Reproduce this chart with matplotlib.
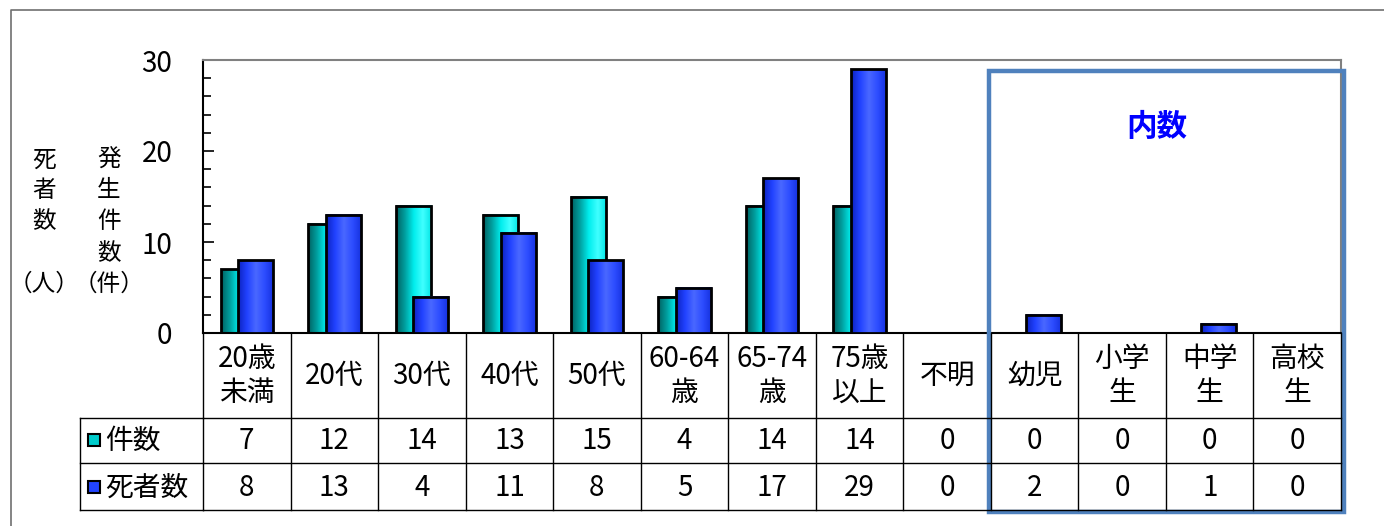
import numpy as np
import matplotlib
matplotlib.use("Agg")
import matplotlib.pyplot as plt
import matplotlib.transforms as mtransforms
from matplotlib.colors import LinearSegmentedColormap
from matplotlib.patches import Rectangle
from matplotlib.ticker import MultipleLocator

plt.rcParams['font.family'] = ['Noto Sans CJK JP', 'DejaVu Sans']

categories = ["20歳\n未満", "20代", "30代", "40代", "50代", "60-64\n歳", "65-74\n歳",
              "75歳\n以上", "不明", "幼児", "小学\n生", "中学\n生", "高校\n生"]
counts = [7, 12, 14, 13, 15, 4, 14, 14, 0, 0, 0, 0, 0]   # 件数
deaths = [8, 13, 4, 11, 8, 5, 17, 29, 0, 2, 0, 1, 0]     # 死者数
series_names = ["件数", "死者数"]

W, H = 1384, 526
fig = plt.figure(figsize=(W / 100, H / 100), dpi=100)
fig.patch.set_facecolor("white")

# main plot area (pixel box 203..1341 x 60..333)
ax = fig.add_axes([203 / W, 1 - 333 / H, 1138 / W, 273 / H])
ov = fig.add_axes([0, 0, 1, 1], zorder=5)
ov.set_xlim(0, W)
ov.set_ylim(H, 0)
ov.axis("off")
ov.patch.set_visible(False)

cyan_map = LinearSegmentedColormap.from_list(
    "cy", ["#006060", "#00a0a0", "#00eeee", "#40ffff", "#00e4e4"])
blue_map = LinearSegmentedColormap.from_list(
    "bl", ["#0c22c0", "#2142ff", "#4a68ff", "#2c4cff", "#1430dd"])

x = np.arange(len(categories))
bw = 0.4
b1 = ax.bar(x - 0.1, counts, bw, facecolor="none", edgecolor="black", linewidth=2, zorder=2.5)
b2 = ax.bar(x + 0.1, deaths, bw, facecolor="none", edgecolor="black", linewidth=2, zorder=3.5)

grad = np.linspace(0, 1, 128).reshape(1, -1)
for bars, cm, z in [(b1, cyan_map, 2), (b2, blue_map, 3)]:
    for b in bars:
        h = b.get_height()
        if h <= 0:
            continue
        x0 = b.get_x()
        ax.imshow(grad, cmap=cm, extent=(x0, x0 + b.get_width(), 0, h),
                  aspect="auto", zorder=z, interpolation="bilinear")

ax.set_xlim(-0.5, len(categories) - 0.5)
ax.set_ylim(0, 30)
ax.set_xticks([])
ax.set_yticks([0, 10, 20, 30])
ax.yaxis.set_minor_locator(MultipleLocator(2))
ax.tick_params(axis="y", which="major", direction="in", length=8, width=1.2, pad=22, labelsize=20)
ax.tick_params(axis="y", which="minor", direction="in", length=6, width=1.2)
for s in ["left", "bottom"]:
    ax.spines[s].set_color("black")
    ax.spines[s].set_linewidth(1.5)
for s in ["top", "right"]:
    ax.spines[s].set_color("#808080")
    ax.spines[s].set_linewidth(1.5)

# y axis labels
ov.text(44, 222, "死\n者\n数\n\n（人）", ha="center", va="center", fontsize=17, linespacing=1.45)
ov.text(109, 222, "発\n生\n件\n数\n（件）", ha="center", va="center", fontsize=17, linespacing=1.45)

# table below the plot
tr = mtransforms.blended_transform_factory(ax.transData, ov.transData)
y_top, y_r1, y_r2, y_bot = 333, 418, 463, 510
n = len(categories)
for i in range(n + 1):
    ov.plot([i - 0.5, i - 0.5], [y_top, y_bot], color="black", lw=1, transform=tr, clip_on=False)
for yy in [y_r1, y_r2, y_bot]:
    ov.plot([80, 203], [yy, yy], color="black", lw=1, clip_on=False)
    ov.plot([-0.5, n - 0.5], [yy, yy], color="black", lw=1, transform=tr, clip_on=False)
ov.plot([80, 80], [y_r1, y_bot], color="black", lw=1)

for i, lab in enumerate(categories):
    ov.text(i, 376, lab, ha="center", va="center", fontsize=20, linespacing=1.2, transform=tr)
    ov.text(i, 441, str(counts[i]), ha="center", va="center", fontsize=20, transform=tr)
    ov.text(i, 488, str(deaths[i]), ha="center", va="center", fontsize=20, transform=tr)

for yy, name, col in [(440, series_names[0], "#00cccc"), (487, series_names[1], "#2244ff")]:
    ov.add_patch(Rectangle((88, yy - 6), 12, 12, facecolor=col, edgecolor="black", lw=1.5))
    ov.text(105, yy + 1, name, ha="left", va="center", fontsize=20)

# 内数 box
ov.add_patch(Rectangle((989, 71), 355, 441, fill=False, edgecolor="#4f81bd", lw=3.2))
ov.text(1157, 127, "内数", ha="center", va="center", fontsize=22, fontweight="bold", color="#0000ff")

# outer frame
ov.plot([11, 11, W + 5], [H + 5, 10, 10], color="#707070", lw=1.2, clip_on=False)

fig.savefig("out.png", dpi=100)
